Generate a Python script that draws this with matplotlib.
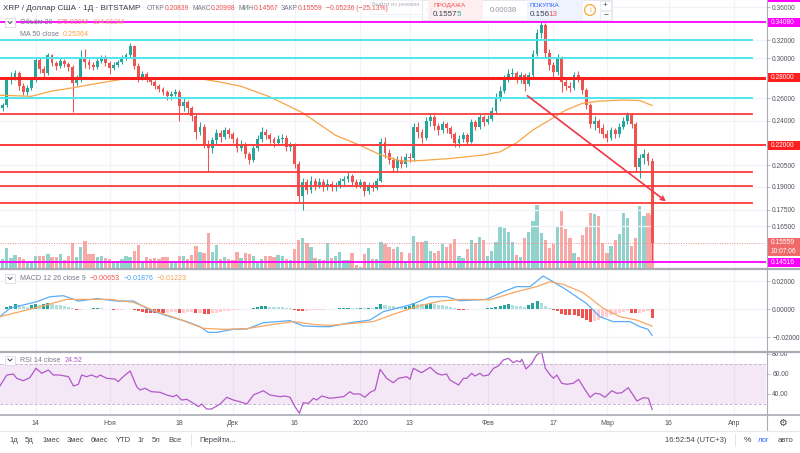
import numpy as np
import pandas as pd
import matplotlib
matplotlib.use('Agg')
import matplotlib.pyplot as plt
from matplotlib.patches import Rectangle
from matplotlib.lines import Line2D
from matplotlib.ticker import NullLocator

plt.rcParams['font.family'] = ['Liberation Sans', 'DejaVu Sans']

# XRP / USD, дневные свечи BITSTAMP, с 6 окт 2019
start = pd.Timestamp('2019-10-06')
first_open = 0.251
closes = [0.254, 0.278, 0.281, 0.285, 0.272, 0.266, 0.270, 0.278, 0.298, 0.289,
          0.285, 0.303, 0.295, 0.292, 0.297, 0.294, 0.291, 0.275, 0.279, 0.300,
          0.296, 0.293, 0.291, 0.297, 0.301, 0.295, 0.290, 0.293, 0.296, 0.300,
          0.303, 0.313, 0.292, 0.281, 0.284, 0.279, 0.276, 0.272, 0.269, 0.266,
          0.262, 0.264, 0.266, 0.253, 0.257, 0.251, 0.244, 0.231, 0.235, 0.221,
          0.218, 0.224, 0.230, 0.227, 0.232, 0.229, 0.225, 0.218, 0.221, 0.213,
          0.209, 0.218, 0.225, 0.231, 0.228, 0.225, 0.222, 0.225, 0.226, 0.219,
          0.221, 0.206, 0.184, 0.193, 0.188, 0.194, 0.191, 0.193, 0.190, 0.192,
          0.190, 0.191, 0.194, 0.195, 0.197, 0.193, 0.191, 0.193, 0.187, 0.191,
          0.189, 0.194, 0.223, 0.214, 0.209, 0.203, 0.209, 0.206, 0.211, 0.210,
          0.235, 0.231, 0.226, 0.240, 0.243, 0.236, 0.232, 0.237, 0.234, 0.229,
          0.222, 0.225, 0.228, 0.223, 0.239, 0.235, 0.243, 0.239, 0.242, 0.249,
          0.261, 0.267, 0.279, 0.284, 0.285, 0.278, 0.283, 0.274, 0.283, 0.305,
          0.328, 0.338, 0.306, 0.293, 0.286, 0.300, 0.276, 0.272, 0.270, 0.283,
          0.279, 0.268, 0.254, 0.237, 0.240, 0.234, 0.229, 0.226, 0.232, 0.229,
          0.235, 0.240, 0.245, 0.237, 0.204, 0.210, 0.213, 0.20839, 0.15559]
highs = [0.256, 0.281, 0.286, 0.288, 0.287, 0.275, 0.273, 0.280, 0.301, 0.300,
         0.292, 0.306, 0.305, 0.297, 0.300, 0.299, 0.296, 0.293, 0.283, 0.309,
         0.310, 0.299, 0.296, 0.300, 0.304, 0.303, 0.297, 0.296, 0.298, 0.303,
         0.306, 0.317, 0.315, 0.295, 0.287, 0.286, 0.281, 0.278, 0.274, 0.271,
         0.268, 0.267, 0.269, 0.268, 0.260, 0.259, 0.253, 0.246, 0.239, 0.237,
         0.224, 0.227, 0.233, 0.232, 0.235, 0.234, 0.231, 0.227, 0.224, 0.223,
         0.215, 0.221, 0.228, 0.235, 0.233, 0.230, 0.227, 0.228, 0.229, 0.228,
         0.223, 0.222, 0.208, 0.196, 0.195, 0.197, 0.196, 0.196, 0.195, 0.195,
         0.194, 0.193, 0.196, 0.197, 0.200, 0.199, 0.195, 0.195, 0.194, 0.193,
         0.193, 0.196, 0.226, 0.227, 0.217, 0.211, 0.212, 0.212, 0.214, 0.214,
         0.238, 0.239, 0.233, 0.243, 0.247, 0.245, 0.238, 0.240, 0.239, 0.236,
         0.231, 0.228, 0.231, 0.230, 0.242, 0.241, 0.246, 0.245, 0.245, 0.252,
         0.265, 0.272, 0.283, 0.289, 0.290, 0.287, 0.286, 0.285, 0.286, 0.309,
         0.333, 0.341, 0.340, 0.310, 0.296, 0.305, 0.302, 0.280, 0.276, 0.286,
         0.287, 0.281, 0.270, 0.256, 0.244, 0.242, 0.237, 0.232, 0.235, 0.234,
         0.238, 0.243, 0.248, 0.247, 0.239, 0.213, 0.217, 0.215, 0.20998]
lows = [0.249, 0.252, 0.274, 0.278, 0.268, 0.263, 0.263, 0.268, 0.276, 0.285,
        0.281, 0.283, 0.292, 0.288, 0.290, 0.291, 0.287, 0.248, 0.272, 0.276,
        0.290, 0.289, 0.288, 0.289, 0.295, 0.292, 0.284, 0.288, 0.291, 0.294,
        0.298, 0.301, 0.289, 0.276, 0.278, 0.276, 0.273, 0.269, 0.266, 0.263,
        0.259, 0.259, 0.262, 0.240, 0.249, 0.247, 0.240, 0.225, 0.228, 0.218,
        0.2005, 0.214, 0.221, 0.223, 0.225, 0.226, 0.222, 0.215, 0.216, 0.210,
        0.206, 0.207, 0.216, 0.223, 0.225, 0.222, 0.219, 0.220, 0.222, 0.216,
        0.216, 0.203, 0.180, 0.175, 0.185, 0.186, 0.188, 0.189, 0.187, 0.188,
        0.187, 0.187, 0.189, 0.191, 0.193, 0.191, 0.189, 0.189, 0.184, 0.185,
        0.187, 0.188, 0.193, 0.210, 0.206, 0.200, 0.201, 0.203, 0.204, 0.207,
        0.208, 0.226, 0.222, 0.224, 0.236, 0.232, 0.228, 0.230, 0.230, 0.226,
        0.219, 0.219, 0.223, 0.220, 0.222, 0.232, 0.233, 0.236, 0.237, 0.240,
        0.247, 0.258, 0.265, 0.276, 0.279, 0.275, 0.275, 0.267, 0.272, 0.281,
        0.302, 0.322, 0.300, 0.288, 0.280, 0.283, 0.266, 0.268, 0.266, 0.268,
        0.276, 0.264, 0.250, 0.234, 0.232, 0.230, 0.226, 0.223, 0.224, 0.226,
        0.227, 0.233, 0.237, 0.234, 0.200, 0.196, 0.206, 0.205, 0.14567]
# объём, млн XRP
volumes = [29, 68, 32, 45, 38, 29, 21, 23, 41, 40, 40, 46, 38, 38, 47, 27, 41, 82, 36, 69,
           90, 46, 46, 36, 41, 32, 29, 25, 25, 30, 41, 36, 58, 77, 23, 36, 30, 35, 29, 36,
           38, 25, 25, 40, 40, 30, 43, 73, 54, 49, 116, 54, 77, 30, 38, 30, 27, 52, 35, 51,
           47, 40, 21, 30, 40, 40, 36, 43, 40, 30, 27, 63, 93, 99, 82, 69, 32, 29, 27, 82,
           35, 40, 52, 27, 26, 49, 10, 5, 46, 66, 30, 29, 86, 81, 69, 62, 69, 54, 23, 49,
           107, 88, 86, 91, 58, 51, 58, 80, 70, 80, 96, 40, 32, 62, 93, 82, 102, 93, 40, 57,
           88, 138, 132, 119, 88, 43, 36, 99, 121, 157, 210, 118, 93, 68, 80, 136, 193, 129, 101, 49,
           38, 110, 141, 182, 179, 173, 82, 51, 73, 93, 112, 182, 166, 73, 99, 207, 174, 184, 176]

# MA 50 (точки: день от начала, цена)
ma50_day = [-0.7, 7, 12, 17, 24, 30, 41, 48, 53, 58, 65, 73, 81, 87, 92, 97, 102, 109,
            117, 121, 125, 129, 133, 137, 141, 145, 151, 155, 158]
ma50_val = [0.263, 0.262, 0.267, 0.270, 0.275, 0.279, 0.280, 0.279, 0.2755, 0.2715, 0.2615,
            0.247, 0.228, 0.220, 0.2126, 0.208, 0.2085, 0.210, 0.2126, 0.215, 0.222, 0.2324,
            0.2407, 0.2494, 0.2555, 0.2575, 0.2585, 0.258, 0.2536]

# MACD 12 26 9
macd_day = [-0.7, 1.8, 8.3, 11.5, 14.8, 18.4, 22.9, 27.7, 31.8, 35.8, 40.7, 44.8, 48, 50, 52,
            56.1, 59.4, 63.4, 69.9, 73.1, 77.2, 79.6, 84.5, 89.3, 92.6, 95.8, 99.9, 103.9, 108,
            111.2, 117.7, 121.8, 125, 128.3, 131.5, 133.9, 137.2, 142, 145.3, 148.5, 152.6, 155,
            157, 158]
macd_val = [-0.0055, 0.0007, 0.0052, 0.0088, 0.0095, 0.0057, 0.0074, 0.0057, 0.0057, -0.0007,
            -0.0055, -0.009, -0.0126, -0.0167, -0.0167, -0.0145, -0.0143, -0.0098, -0.0083,
            -0.0121, -0.0126, -0.0126, -0.0098, -0.0079, -0.0019, 0.0005, 0.0036, 0.0088, 0.0088,
            0.0059, 0.0069, 0.0124, 0.016, 0.016, 0.0236, 0.0195, 0.0136, 0.004, -0.0055, -0.009,
            -0.009, -0.0126, -0.0145, -0.01876]
signal_day = [-0.7, 4.2, 9.1, 15.6, 20.4, 26.1, 31.8, 37.5, 43.1, 48.8, 53.7, 59.4, 65.8, 70.7,
              75.6, 79.6, 90.1, 95.8, 100.7, 106.4, 112.1, 118.5, 125, 129.9, 133.1, 136.4,
              141.2, 146.1, 150.2, 154.2, 158]
signal_val = [-0.0055, -0.0019, 0.0017, 0.0069, 0.0069, 0.0069, 0.0048, -0.0019, -0.0074,
              -0.0138, -0.0145, -0.014, -0.011, -0.009, -0.011, -0.0117, -0.009, -0.003, 0.0017,
              0.0057, 0.0069, 0.0066, 0.0124, 0.016, 0.0195, 0.0176, 0.0117, 0.0005, -0.0055,
              -0.0079, -0.01223]
# гистограмма, x0.001, по дням
hist = [0.3, 1.5, 2.5, 3.5, 3.0, 2.2, 1.8, 3.0, 3.8, 3.2, 3.5, 4.0, 3.5, 3.0, 2.6, 2.0, 1.5, 0.8, -1.0, -0.6,
        -0.3, 0.2, 0.5, 0.6, 0.4, 0.2, -0.2, -0.8, -0.7, -0.4, -0.3, -0.2, -0.8, -1.5, -2.0, -2.5, -2.8, -3.0, -3.0, -3.2,
        -2.8, -2.4, -2.2, -3.0, -2.5, -2.0, -1.8, -3.0, -2.6, -3.5, -3.6, -3.0, -2.5, -2.0, -1.6, -1.2, -0.8, -0.5, -0.3, 0.0,
        0.3, 1.0, 1.5, 2.0, 2.2, 1.8, 1.5, 1.3, 1.1, 0.8, 0.5, -0.6, -1.2, -1.5, -1.2, -1.0, -0.8, -0.6, -0.4, -0.3,
        -0.3, -0.2, 0.4, 0.6, 0.8, 0.8, 0.7, 0.9, 0.8, 1.0, 1.0, 1.4, 3.5, 3.0, 2.5, 2.0, 1.8, 1.6, 1.8, 2.5,
        4.0, 3.8, 3.4, 3.8, 4.5, 3.5, 3.0, 2.6, 2.0, 1.4, 0.8, -0.5, -0.7, -0.4, -0.2, 0.2, 0.3, 0.1, 0.4, 1.0,
        1.5, 2.5, 3.0, 3.5, 3.0, 2.4, 2.0, 1.6, 2.8, 4.2, 5.8, 4.0, 2.5, 1.0, -0.5, -1.5, -3.5, -4.0, -4.5, -4.5,
        -5.0, -6.5, -8.0, -9.0, -8.5, -8.0, -6.5, -5.5, -4.5, -3.5, -2.8, -2.0, -1.5, -2.5, -3.0, -2.5, -2.0, -1.5, -6.53]

# RSI 14
rsi_day = [-0.7, 1.0, 2.6, 3.4, 5.0, 6.6, 8.1, 9.5, 11.1, 12.3, 13.9, 16.0, 17.2, 18.4, 19.2, 20.4,
           21.6, 22.9, 23.7, 25.3, 27.3, 28.1, 29.3, 31.0, 32.6, 33.4, 34.6, 36.2, 38.3, 39.9, 41.5,
           42.3, 43.5, 44.8, 46.4, 47.6, 48.4, 49.6, 50.8, 52.9, 54.5, 56.1, 57.7, 59.4, 61.0, 63.4,
           65.0, 67.5, 68.7, 69.9, 71.1, 72.2, 73.1, 74.4, 75.6, 76.4, 77.6, 79.6, 82.9, 84.5, 85.3,
           86.9, 88.1, 89.4, 90.6, 91.8, 93.4, 95.0, 96.3, 98.3, 99.1, 99.9, 101.9, 104.0, 105.6,
           106.8, 108.0, 108.8, 110.9, 112.1, 112.9, 114.1, 114.9, 116.1, 116.9, 118.2, 119.4,
           120.6, 121.8, 123.0, 124.2, 125.1, 125.9, 126.3, 127.3, 128.7, 129.9, 131.1, 132.0,
           133.2, 134.0, 134.8, 136.0, 137.2, 138.8, 140.1, 141.3, 142.9, 144.1, 145.3, 146.5,
           148.2, 149.4, 150.6, 152.2, 154.3, 155.9, 157.1, 158.0]
rsi_val = [48, 59, 60, 55.7, 53.3, 56.3, 65.7, 60.7, 64, 59, 59, 57.3, 48, 49.7, 59, 57.3,
           59, 56.7, 59, 55.7, 55, 52.3, 57.3, 63, 47.3, 44, 45.7, 42.3, 41.7, 39, 37.3,
           39, 34, 34.7, 30.7, 27.3, 30, 25, 25, 30, 36.7, 34, 32.3, 30, 39, 43.3,
           39, 37.3, 38, 36.7, 27.3, 20.7, 31.3, 30.7, 35.7, 34, 38, 35.7, 37.3, 42.3, 40,
           40, 36.7, 41.7, 44, 64.7, 55.7, 51.3, 55.7, 57.3, 54.7, 65.7, 61.3, 66.7, 60.7,
           59, 60, 54, 49, 55.7, 55.7, 60.7, 58, 60.7, 58, 59, 65.7,
           68, 74, 75.7, 71.3, 73.3, 72, 74.7, 65, 70.7, 79, 82.3, 65.7,
           59, 55.7, 59, 50.7, 49.7, 50.7, 54.7, 46.7, 36.7, 40.7, 40, 36.7,
           43.3, 40.7, 41.3, 46.3, 33, 36.3, 35.7, 24.52]

# уровни и рисунки на графике
magenta_levels = [0.3717, 0.3408, 0.14516]
cyan_levels = [0.320, 0.300, 0.260]
red_levels = [0.2457, 0.2003, 0.1904, 0.1795]
red_key_levels = [0.28, 0.22]
last_price = 0.15559
arrow_day = [127.1, 161.9]
arrow_price = [0.2641, 0.1792]

price_ticks = [0.36, 0.32, 0.30, 0.26, 0.24, 0.205, 0.19, 0.175, 0.165]
tick_dates = ['2019-10-14', '2019-11-01', '2019-11-18', '2019-12-01', '2019-12-16', '2020-01-01',
              '2020-01-13', '2020-02-01', '2020-02-17', '2020-03-01', '2020-03-16', '2020-04-01']
tick_labels = ['14', 'Ноя', '18', 'Дек', '16', '2020', '13', 'Фев', '17', 'Мар', '16', 'Апр']

opens = [first_open] + closes[:-1]
days = np.arange(len(closes))
tick_pos = [(pd.Timestamp(d) - start).days for d in tick_dates]

W, H = 800, 453
fig = plt.figure(figsize=(8, 4.53), dpi=100)
fig.patch.set_facecolor('white')
rend = fig.canvas.get_renderer()


def rect(x0, y0, x1, y1):
    return [x0 / W, 1 - y1 / H, (x1 - x0) / W, (y1 - y0) / H]


def X(x):
    return x / W


def Y(y):
    return 1 - y / H


GRID = '#F0F3FA'
TXT = '#50535E'
UP, DOWN = '#26A69A', '#EF5350'
XL = (-0.66, 185.7)
PTOP, PBOT = 0.3691, 0.1422
PX_LN = 268 / np.log(PTOP / PBOT)

ax_vol = fig.add_axes(rect(0, 0, 766, 268))
ax = fig.add_axes(rect(0, 0, 766, 268), sharex=ax_vol)
ax_macd = fig.add_axes(rect(0, 269, 766, 351), sharex=ax_vol)
ax_rsi = fig.add_axes(rect(0, 352, 766, 414), sharex=ax_vol)
ax.patch.set_visible(False)

for a in (ax_vol, ax, ax_macd, ax_rsi):
    for s in a.spines.values():
        s.set_visible(False)
    a.set_xlim(*XL)
    a.set_xticks(tick_pos)
    a.tick_params(axis='x', length=0, labelbottom=False)

for a in (ax_vol, ax_macd, ax_rsi):
    a.grid(axis='x', color=GRID, lw=0.9, zorder=0)
    a.set_axisbelow(True)

# объём
o = np.array(opens)
c = np.array(closes)
up = c >= o
ax_vol.bar(days, volumes, width=0.8, color=np.where(up, '#92D2CC', '#F7A9A7'), lw=0)
ax_vol.set_ylim(0, 268 / 0.3)
ax_vol.set_yticks([])

# цена
ax.set_yscale('log')
ax.set_ylim(PBOT, PTOP)
ax.yaxis.set_minor_locator(NullLocator())
ax.set_yticks(price_ticks)
ax.set_yticklabels(['%.5f' % p for p in price_ticks])
ax.yaxis.tick_right()
ax.tick_params(axis='y', length=3, width=0.6, color='#B2B5BE', labelsize=4.8,
               labelcolor=TXT, pad=1.5)
ax.grid(axis='y', color=GRID, lw=0.9, zorder=0)

col = np.where(up, UP, DOWN)
ax.vlines(days, lows, highs, colors=col, lw=0.75, zorder=3)
ax.bar(days, np.abs(c - o), bottom=np.minimum(o, c), width=0.7, color=col, lw=0, zorder=3)
ax.plot(ma50_day, ma50_val, color='#F7A548', lw=0.9, zorder=3)

ax.axhline(last_price, color='#F08C8C', lw=0.7, ls=(0, (1, 1.5)), zorder=2)
for p in magenta_levels:
    ax.axhline(p, color='#FF00FF', lw=1.3, zorder=4)
for p in cyan_levels:
    ax.axhline(p, xmax=752 / 766, color='#4EE6EE', lw=1.4, zorder=4)
for p in red_levels:
    ax.axhline(p, xmax=752 / 766, color='#FF3B3B', lw=1.3, zorder=4)
ax.axhline(red_key_levels[0], color='#FF1E1E', lw=2.2, zorder=4)
ax.axhline(red_key_levels[1], color='#FF3B3B', lw=1.4, zorder=4)
ax.annotate('', xy=(arrow_day[1], arrow_price[1]), xytext=(arrow_day[0], arrow_price[0]),
            arrowprops=dict(arrowstyle='->', color='#F23645', lw=1.2, mutation_scale=7), zorder=5)

# шкала цены с плашками
ax_scale = fig.add_axes(rect(766, 0, 800, 268), sharey=ax)
ax_scale.set_xlim(0, 1)
ax_scale.axis('off')


def box_label(p, text, fc, dy=0.0):
    yc = p * np.exp(-dy / PX_LN)
    y0, y1 = yc * np.exp(-4.3 / PX_LN), yc * np.exp(4.3 / PX_LN)
    ax_scale.add_patch(Rectangle((0.03, y0), 0.97, y1 - y0, fc=fc, ec='none', clip_on=False))
    ax_scale.text(0.14, yc, text, color='white', fontsize=4.8, va='center', ha='left', clip_on=True)


box_label(magenta_levels[0], '0.37170', '#FF00FF')
box_label(magenta_levels[1], '0.34080', '#FF00FF')
box_label(red_key_levels[0], '0.28000', '#FF1E1E')
box_label(red_key_levels[1], '0.22000', '#FF1E1E')
box_label(last_price, '0.15559', '#F06A6A')
box_label(last_price, '10:07:06', '#F06A6A', dy=8.6)
box_label(magenta_levels[2], '0.14516', '#FF00FF')

# MACD
hcols = []
for k, v in enumerate(hist):
    prev = hist[k - 1] if k > 0 else v
    if v >= 0:
        hcols.append('#26A69A' if v > prev else '#B2DFDB')
    else:
        hcols.append('#FFCDD2' if v > prev else '#EF5350')
ax_macd.bar(days, np.array(hist) / 1000, width=0.75, color=hcols, lw=0, zorder=2)
ax_macd.plot(macd_day, macd_val, color='#5AADF7', lw=0.9, zorder=3)
ax_macd.plot(signal_day, signal_val, color='#F8A663', lw=0.9, zorder=3)
ax_macd.set_ylim(-0.030, 0.0286)
ax_macd.set_yticks([0.02, 0.0, -0.02])
ax_macd.set_yticklabels(['0.02000', '0.00000', '\u22120.02000'])
ax_macd.yaxis.tick_right()
ax_macd.tick_params(axis='y', length=3, width=0.6, color='#B2B5BE', labelsize=4.8,
                    labelcolor=TXT, pad=1.5)
ax_macd.grid(axis='y', color=GRID, lw=0.9, zorder=0)

# RSI
ax_rsi.axhspan(30, 70, color='#9C27B0', alpha=0.1, lw=0, zorder=1)
for lv in (70, 30):
    ax_rsi.axhline(lv, color='#C7B2D6', lw=0.7, ls=(0, (3, 2)), zorder=1)
ax_rsi.plot(rsi_day, rsi_val, color='#B158C8', lw=0.9, zorder=3)
ax_rsi.set_ylim(20, 82)
ax_rsi.set_yticks([80, 60, 40])
ax_rsi.set_yticklabels(['80.00', '60.00', '40.00'])
ax_rsi.yaxis.tick_right()
ax_rsi.tick_params(axis='y', length=3, width=0.6, color='#B2B5BE', labelsize=4.8,
                   labelcolor=TXT, pad=1.5)
ax_rsi.set_xticklabels(tick_labels)
ax_rsi.tick_params(axis='x', labelbottom=True, labelsize=5, labelcolor=TXT, pad=4.5)

# разделители
for yy, lw in ((268.5, 1.6), (351.5, 1.6), (414.5, 1.2)):
    fig.add_artist(Line2D([0, 1], [Y(yy), Y(yy)], color='#A9ACB5', lw=lw))
fig.add_artist(Line2D([X(766.5), X(766.5)], [Y(0), Y(430)], color='#A9ACB5', lw=0.8))
fig.add_artist(Line2D([0, 1], [Y(430.5), Y(430.5)], color='#E6E8EE', lw=0.8))


def ftxt(x, y, s, color=TXT, size=5.8, **kw):
    return fig.text(X(x), Y(y), s, color=color, fontsize=size, va='center', ha='left', **kw)


def chain(x, y, parts, size):
    # части текста подряд: (текст, цвет, зазор после, px)
    for s, color, gap in parts:
        t = ftxt(x, y, s, color=color, size=size)
        x += t.get_window_extent(rend).width + gap
    return x


def chevron(x, y):
    fig.add_artist(Rectangle((X(x), Y(y + 9)), 10 / W, 9 / H, transform=fig.transFigure,
                             fc='white', ec='#D6D9E0', lw=0.6))
    fig.add_artist(Line2D([X(x + 3), X(x + 5), X(x + 7)], [Y(y + 3.5), Y(y + 5.5), Y(y + 3.5)],
                          color='#434651', lw=0.7))


# легенда
red = '#EF5350'
gray = '#787B86'
ftxt(3, 9, 'XRP / Доллар США · 1Д · BITSTAMP', color='#3C3F4A', size=5.9)
chain(147, 9, [('ОТКР', gray, 0), ('0.20839', red, 3), ('МАКС', gray, 0), ('0.20998', red, 3),
               ('МИН', gray, 0), ('0.14567', red, 3), ('ЗАКР', gray, 0), ('0.15559', red, 3),
               ('\u22120.05236 (\u221225.13%)', red, 0)], 4.9)
fig.add_artist(Rectangle((X(370), Y(14)), 52 / W, 14 / H, transform=fig.transFigure,
                         fc='white', ec='#E6E8EE', lw=0.5, alpha=0.8))
ftxt(372, 4.5, 'Выйти из режима', color='#B2B5BE', size=4.2)

chevron(5, 18)
chain(20, 22.5, [('Объём 20', gray, 4), ('175.929M', '#F07D7D', 4), ('104.813M', '#F39B7A', 0)], 5.1)
chain(20, 34, [('MA 50 close', gray, 4), ('0.25364', '#F7A548', 0)], 5.1)

chevron(5, 274)
chain(20, 278.5, [('MACD 12 26 close 9', gray, 4), ('\u22120.00653', red, 3.5),
                  ('\u22120.01876', '#4FA3F3', 3.5), ('\u22120.01223', '#F7A050', 0)], 5.1)

chevron(5, 355.5)
chain(20, 360, [('RSI 14 close', gray, 4), ('24.52', '#B158C8', 0)], 5.1)

# панель продажи / покупки
fig.add_artist(Rectangle((X(422), Y(20)), 190 / W, 20 / H, transform=fig.transFigure,
                         fc='white', ec='#E0E3EB', lw=0.6))
fig.add_artist(Rectangle((X(428), Y(20)), 55 / W, 20 / H, transform=fig.transFigure,
                         fc='#FDEFEF', ec='none'))
fig.add_artist(Rectangle((X(527), Y(20)), 56 / W, 20 / H, transform=fig.transFigure,
                         fc='#EEF3FD', ec='none'))
ftxt(423.5, 10, '\u22ee\u22ee', color='#C4C7CE', size=4)
ftxt(433, 5.5, 'ПРОДАЖА', color='#F0524F', size=4.6)
chain(433, 14.5, [('0.1557', '#3C3F4A', -1.3), ('5', '#26A69A', 0)], 5.8)
ftxt(490, 10, '0.00038', color='#9598A1', size=5.5)
ftxt(530, 5.5, 'ПОКУПКА', color='#2962FF', size=4.6)
chain(530, 14.5, [('0.156', '#3C3F4A', -1.3), ('13', red, 0)], 5.8)
fig.text(X(590), Y(10), 'i', color='#F7A738', fontsize=5.5, ha='center', va='center',
         bbox=dict(boxstyle='circle,pad=0.25', fc='white', ec='#F7A738', lw=0.9))
for yy, s in ((5, '+'), (15, '\u2212')):
    fig.add_artist(Rectangle((X(600), Y(yy + 4.5)), 11 / W, 9 / H, transform=fig.transFigure,
                             fc='white', ec='#E0E3EB', lw=0.5))
    fig.text(X(605.5), Y(yy), s, color='#434651', fontsize=6, ha='center', va='center')

# нижняя панель
for s, x in (('1д', 9), ('5д', 25), ('1мес', 42), ('3мес', 67), ('6мес', 91), ('YTD', 116),
             ('1г', 137), ('5л', 152), ('Все', 168), ('Перейти...', 199)):
    ftxt(x, 440, s, color='#434651', size=5.5)
fig.add_artist(Line2D([X(191), X(191)], [Y(434), Y(446)], color='#E0E3EB', lw=0.7))
ftxt(665, 440, '16:52:54 (UTC+3)', color='#434651', size=5.5)
fig.add_artist(Line2D([X(735), X(735)], [Y(434), Y(446)], color='#E0E3EB', lw=0.7))
ftxt(744, 440, '%', color='#434651', size=6)
ftxt(758, 440, 'лог', color='#2962FF', size=5.5)
ftxt(778, 440, 'авто', color='#434651', size=5.5)
fig.text(X(782), Y(422.5), '\u2699', color='#434651', fontsize=7, ha='center', va='center',
         family='DejaVu Sans')

fig.savefig('out.png', dpi=100, facecolor='white')
